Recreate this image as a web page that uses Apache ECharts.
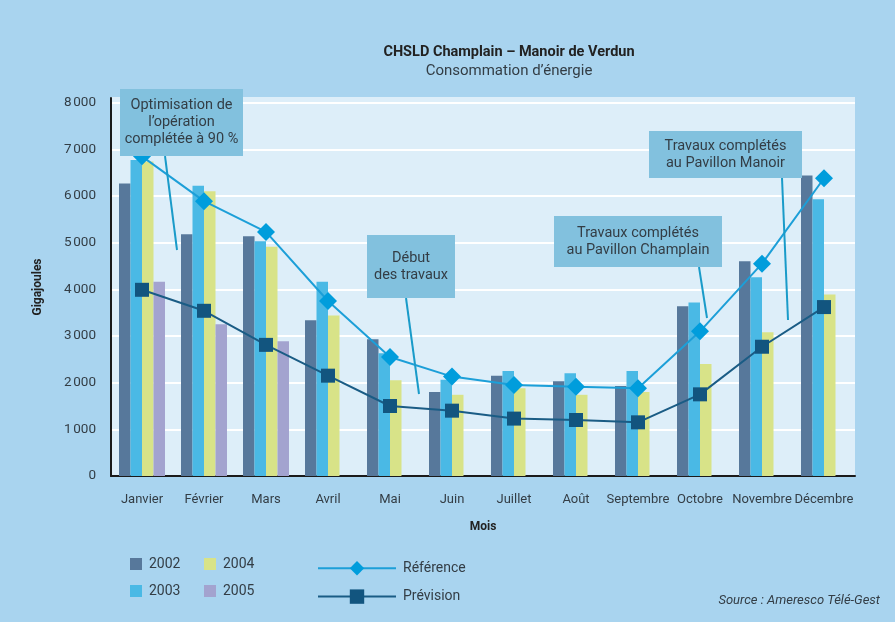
<!DOCTYPE html>
<html>
<head>
<meta charset="utf-8">
<script src="https://cdn.jsdelivr.net/npm/echarts@6/dist/echarts.min.js"></script>
<style>
  html, body { margin: 0; padding: 0; background: #a9d4ef; }
  #chart { width: 895px; height: 622px; }
</style>
</head>
<body>
<div id="chart"></div>
<script>
// mois
const months = ['Janvier', 'Février', 'Mars', 'Avril', 'Mai', 'Juin', 'Juillet', 'Août', 'Septembre', 'Octobre', 'Novembre', 'Décembre'];

// consommation annuelle (GJ)
const y2002 = [6270, 5180, 5140, 3340, 2930, 1800, 2150, 2030, 1930, 3640, 4600, 6440];
const y2003 = [6770, 6220, 5030, 4160, 2630, 2060, 2250, 2200, 2250, 3720, 4260, 5930];
const y2004 = [6740, 6100, 4910, 3440, 2050, 1740, 1880, 1740, 1800, 2400, 3080, 3890];
const y2005 = [4160, 3250, 2890, null, null, null, null, null, null, null, null, null];

const reference = [6850, 5890, 5230, 3750, 2550, 2130, 1950, 1910, 1880, 3100, 4550, 6380];
const prevision = [3990, 3540, 2810, 2150, 1500, 1400, 1230, 1200, 1150, 1750, 2770, 3620];

const yTicks = [0, 1000, 2000, 3000, 4000, 5000, 6000, 7000, 8000];

const FONT = 'Roboto, "Noto Sans", sans-serif';
const TXT = '#333d45';
const BOX = '#82c1de';
const LEAD = '#1a9bc9';
const PLOT_BG = '#ddeef9';

const chart = echarts.init(document.getElementById('chart'));

function fmt(v) {
  if (yTicks.indexOf(v) < 0) return '';
  return String(v).replace(/\B(?=(\d{3})+(?!\d))/g, '\u202f');
}

function callout(x, y, w, h, lines, lx1, ly1, lx2, ly2) {
  return [
    {
      type: 'line', z: 100,
      shape: { x1: lx1, y1: ly1, x2: lx2, y2: ly2 },
      style: { stroke: LEAD, lineWidth: 2 }
    },
    {
      type: 'rect', z: 101,
      shape: { x: x, y: y, width: w, height: h },
      style: { fill: BOX }
    },
    {
      type: 'text', z: 102,
      x: x + w / 2, y: y + h / 2,
      style: {
        text: lines.join('\n'), align: 'center', verticalAlign: 'middle',
        font: '14.5px ' + FONT, fill: TXT, lineHeight: 17
      }
    }
  ];
}

const barBase = { type: 'bar', barWidth: 11.5, barGap: '0%' };

// white grid lines, last one (top edge of plot) hidden
const gridColors = yTicks.map(() => '#ffffff').concat([PLOT_BG]);

const option = {
  backgroundColor: '#a9d4ef',
  textStyle: { fontFamily: FONT },
  animation: false,
  title: {
    text: 'CHSLD Champlain – Manoir de Verdun',
    subtext: 'Consommation d’énergie',
    left: 504, top: 40, textAlign: 'center', itemGap: 4,
    textStyle: { fontSize: 14.5, fontWeight: 'bold', color: '#222', fontFamily: FONT },
    subtextStyle: { fontSize: 15, color: TXT, fontFamily: FONT }
  },
  grid: {
    left: 111, right: 40, top: 98, bottom: 146,
    show: true, backgroundColor: PLOT_BG, borderWidth: 0
  },
  legend: [
    {
      data: ['2002', '2003'], orient: 'vertical', left: 130, top: 557, padding: 0,
      icon: 'rect', itemWidth: 12, itemHeight: 12, itemGap: 13,
      textStyle: { fontSize: 14, color: TXT, padding: [0, 0, 0, 2] }
    },
    {
      data: ['2004', '2005'], orient: 'vertical', left: 204, top: 557, padding: 0,
      icon: 'rect', itemWidth: 12, itemHeight: 12, itemGap: 13,
      textStyle: { fontSize: 14, color: TXT, padding: [0, 0, 0, 2] }
    },
    {
      data: ['Référence', 'Prévision'], orient: 'vertical', left: 317, top: 561, padding: 0,
      itemWidth: 78, itemHeight: 18, itemGap: 14,
      textStyle: { fontSize: 14, color: TXT, padding: [0, 0, 0, 2] }
    }
  ],
  xAxis: {
    type: 'category',
    data: months,
    name: 'Mois', nameLocation: 'middle', nameGap: 45,
    nameTextStyle: { fontSize: 12, fontWeight: 'bold', color: '#222' },
    axisLine: { lineStyle: { color: '#1a1a1a', width: 2 } },
    axisTick: { show: false },
    axisLabel: { fontSize: 13, color: TXT, margin: 17, interval: 0 }
  },
  yAxis: {
    type: 'value',
    min: 0, max: 8100, interval: 1000,
    name: 'Gigajoules', nameLocation: 'middle', nameGap: 67, nameRotate: 90,
    nameTextStyle: { fontSize: 12, fontWeight: 'bold', color: '#222' },
    axisLine: { show: true, lineStyle: { color: '#1a1a1a', width: 2 } },
    axisTick: { show: false },
    axisLabel: { fontSize: 13.5, color: TXT, margin: 15, formatter: fmt, showMaxLabel: false },
    splitLine: { lineStyle: { color: gridColors, width: 2 } }
  },
  series: [
    Object.assign({ name: '2002', data: y2002, itemStyle: { color: '#57789b' } }, barBase),
    Object.assign({ name: '2003', data: y2003, itemStyle: { color: '#4ab9e5' } }, barBase),
    Object.assign({ name: '2004', data: y2004, itemStyle: { color: '#d8e388' } }, barBase),
    Object.assign({ name: '2005', data: y2005, itemStyle: { color: '#a3a3cf' } }, barBase),
    {
      name: 'Référence', type: 'line', data: reference,
      symbol: 'diamond', symbolSize: 18, z: 5,
      lineStyle: { color: '#1c9fd8', width: 2 },
      itemStyle: { color: '#009ddc' }
    },
    {
      name: 'Prévision', type: 'line', data: prevision,
      symbol: 'rect', symbolSize: 14, z: 5,
      lineStyle: { color: '#1a5c85', width: 2 },
      itemStyle: { color: '#12557f' }
    }
  ],
  graphic: [].concat(
    callout(120, 89, 123, 67, ['Optimisation de', 'l’opération', 'complétée à 90 %'], 165, 156, 177, 250),
    callout(367, 235, 88, 63, ['Début', 'des travaux'], 406, 298, 419, 394),
    callout(554, 216, 168, 51, ['Travaux complétés', 'au Pavillon Champlain'], 699, 267, 707, 318),
    callout(649, 131, 153, 47, ['Travaux complétés', 'au Pavillon Manoir'], 782, 178, 788, 320),
    [{
      type: 'text', right: 15, top: 594,
      style: { text: 'Source : Ameresco Télé-Gest', font: 'italic 13px ' + FONT, fill: TXT }
    }]
  )
};

chart.setOption(option);
</script>
</body>
</html>
